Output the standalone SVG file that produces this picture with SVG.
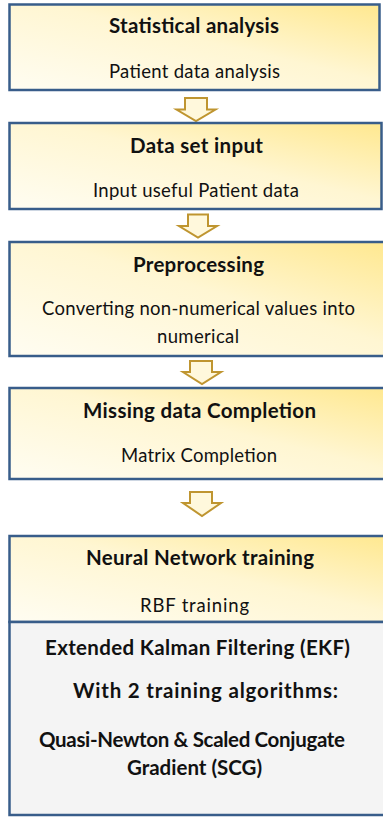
<svg xmlns="http://www.w3.org/2000/svg" width="383" height="819" viewBox="0 0 383 819">
<defs>
<linearGradient id="yg" x1="0" y1="1" x2="1" y2="0">
<stop offset="0" stop-color="#FFFDF2"/>
<stop offset="0.55" stop-color="#FFF6D2"/>
<stop offset="1" stop-color="#FFE88F"/>
</linearGradient>
<style>
.box{fill:url(#yg);stroke:#385D8A;stroke-width:2.5}
.gray{fill:#F4F4F4;stroke:#385D8A;stroke-width:2.5}
.t{font-family:Lato,"Liberation Sans",sans-serif;font-weight:bold;font-size:20.5px;fill:#111;text-anchor:middle}
.s{font-family:Lato,"Liberation Sans",sans-serif;font-size:18.5px;fill:#111;text-anchor:middle}
.arr{fill:#FFF8DC;stroke:#BF9530;stroke-width:2;stroke-linejoin:miter}
</style>
</defs>
<g id="connectors">
<path class="arr" d="M185,98 H207 V109.5 H215.5 L196,121 L176.5,109.5 H185 Z"/>
<path class="arr" d="M188,214.5 H208 V226 H217 L198,237.5 L179,226 H188 Z"/>
<path class="arr" d="M190,361 H212 V372 H221 L202,384 L183,372 H190 Z"/>
<path class="arr" d="M190,492 H212 V503 H221 L202,516 L183,503 H190 Z"/>
</g>
<g id="n1">
<rect class="box" x="9.5" y="4.5" width="370" height="85.5"/>
<text class="t" x="194" y="33" textLength="170">Statistical analysis</text>
<text class="s" x="194.5" y="78" textLength="171">Patient data analysis</text>
</g>
<g id="n2">
<rect class="box" x="9.5" y="123" width="372" height="86"/>
<text class="t" x="196.5" y="153" textLength="133">Data set input</text>
<text class="s" x="196" y="197" textLength="206">Input useful Patient data</text>
</g>
<g id="n3">
<rect class="box" x="9.5" y="242" width="380" height="114"/>
<text class="t" x="198.5" y="272" textLength="131">Preprocessing</text>
<text class="s" x="198.5" y="315" textLength="313">Converting non-numerical values into</text>
<text class="s" x="198" y="343" textLength="82">numerical</text>
</g>
<g id="n4">
<rect class="box" x="9.5" y="388" width="380" height="91"/>
<text class="t" x="199.5" y="418" textLength="233">Missing data Completion</text>
<text class="s" x="199" y="462" textLength="156">Matrix Completion</text>
</g>
<g id="n5">
<rect class="box" x="9.5" y="536" width="380" height="86"/>
<rect class="gray" x="9.5" y="622" width="380" height="193"/>
<text class="t" x="200" y="565" textLength="228">Neural Network training</text>
<text class="s" x="194.5" y="612" textLength="109">RBF training</text>
<text class="t" x="197.5" y="655" textLength="305">Extended Kalman Filtering (EKF)</text>
<text class="t" x="205.5" y="698" textLength="265">With 2 training algorithms:</text>
<text class="t" x="192" y="747" textLength="306">Quasi-Newton &amp; Scaled Conjugate</text>
<text class="t" x="194.5" y="775">Gradient (SCG)</text>
</g>
</svg>
